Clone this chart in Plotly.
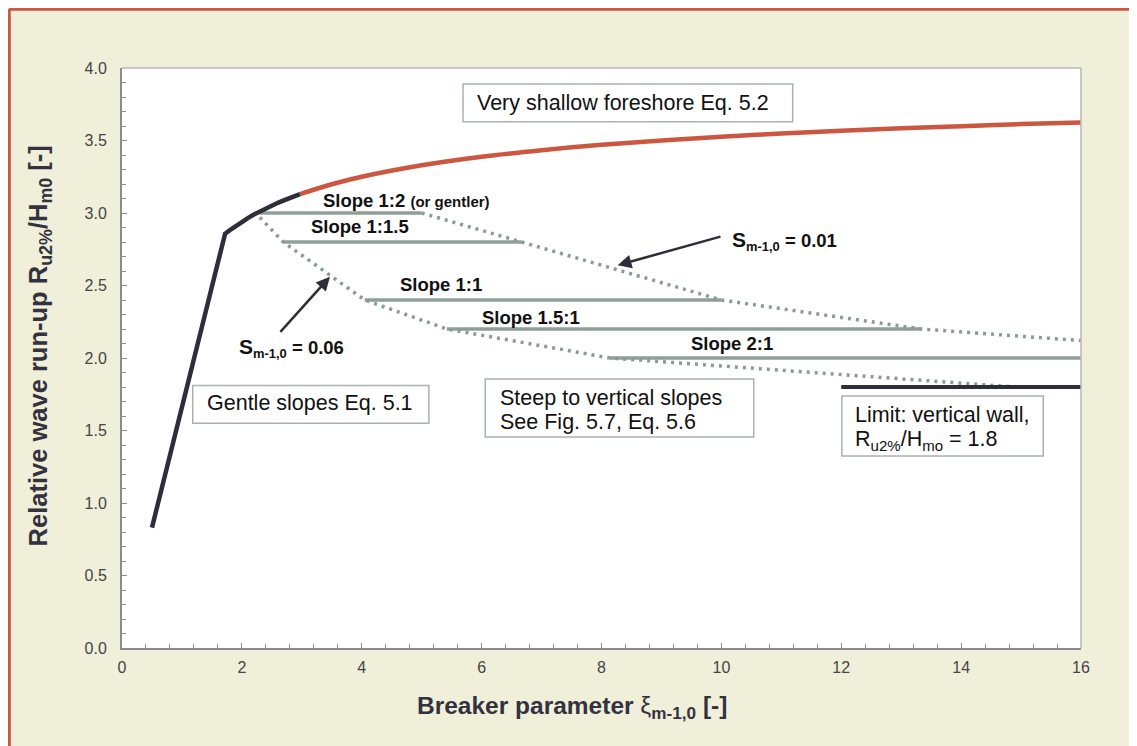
import plotly.graph_objects as go

# ---------------- data ----------------
# Eq. 5.1 gentle slopes (dark curve); first two points form the straight part
gentle_xi = [0.5, 1.72, 1.8, 1.9, 2.0, 2.1, 2.2, 2.3, 2.4, 2.5, 2.6, 2.7, 2.8, 2.97]
gentle_ru = [0.83, 2.857, 2.882, 2.912, 2.939, 2.965, 2.989, 3.011, 3.032, 3.051,
             3.070, 3.087, 3.104, 3.13]
# Eq. 5.2 very shallow foreshore (red curve)
shallow_xi = [2.97, 3.5, 4, 5, 6, 7, 8, 9, 10, 11, 12, 13, 14, 15, 16]
shallow_ru = [3.13, 3.198, 3.25, 3.329, 3.388, 3.433, 3.47, 3.50, 3.526, 3.548, 3.567,
              3.584, 3.599, 3.613, 3.625]

# Slope lines (horizontal)
slope_names = ["Slope 1:2", "Slope 1:1.5", "Slope 1:1", "Slope 1.5:1", "Slope 2:1"]
slope_ru = [3.0, 2.8, 2.4, 2.2, 2.0]
slope_xi_start = [2.30, 2.69, 4.05, 5.42, 8.14]
slope_xi_end = [5.0, 6.67, 10.0, 13.33, 16.0]

# Vertical wall limit
wall_xi = [12.0, 16.0]
wall_ru = [1.8, 1.8]

# Steepness lines (dotted)
s001_xi = [5.0, 6.67, 10.0, 13.33, 16.0]
s001_ru = [3.0, 2.8, 2.4, 2.2, 2.12]
s006_xi = [2.30, 2.69, 4.05, 5.42, 8.14, 14.9]
s006_ru = [2.97, 2.8, 2.4, 2.2, 2.0, 1.8]

x_ticks = [0, 2, 4, 6, 8, 10, 12, 14, 16]
y_ticks = [0.0, 0.5, 1.0, 1.5, 2.0, 2.5, 3.0, 3.5, 4.0]

# ---------------- styling ----------------
FONT = "Liberation Sans, Arial, Helvetica, sans-serif"
RED = "#CB5741"
DARK = "#2D2D3B"
GREEN = "#8E9F97"
CREAM = "#F0EFDA"
BOXLINE = "#A9B2AE"

fig = go.Figure()

# slope lines
for xs, xe, r in zip(slope_xi_start, slope_xi_end, slope_ru):
    fig.add_trace(go.Scatter(x=[xs, xe], y=[r, r], mode="lines",
                             line=dict(color=GREEN, width=3.5), showlegend=False,
                             hoverinfo="skip"))
# dotted steepness lines
for xs, ys in [(s001_xi, s001_ru), (s006_xi, s006_ru)]:
    fig.add_trace(go.Scatter(x=xs, y=ys, mode="lines",
                             line=dict(color="#8A9B93", width=3.5, dash="3px,5px"),
                             showlegend=False, hoverinfo="skip"))
# wall limit
fig.add_trace(go.Scatter(x=wall_xi, y=wall_ru, mode="lines",
                         line=dict(color=DARK, width=4), showlegend=False, hoverinfo="skip"))
# curves
fig.add_trace(go.Scatter(x=shallow_xi, y=shallow_ru, mode="lines",
                         line=dict(color=RED, width=4.5, shape="spline", smoothing=1.0),
                         showlegend=False, hoverinfo="skip"))
fig.add_trace(go.Scatter(x=gentle_xi, y=gentle_ru, mode="lines",
                         line=dict(color=DARK, width=4.5), showlegend=False, hoverinfo="skip"))

shapes = []
# text boxes (data coords)
boxes = [(5.69, 11.19, 3.63, 3.89), (1.18, 5.12, 1.55, 1.81),
         (6.06, 10.54, 1.455, 1.855), (12.01, 15.37, 1.324, 1.738)]
for x0, x1, y0, y1 in boxes:
    shapes.append(dict(type="rect", xref="x", yref="y", x0=x0, x1=x1, y0=y0, y1=y1,
                       line=dict(color=BOXLINE, width=1.5), fillcolor="white", layer="above"))
# top/right frame lines
shapes.append(dict(type="line", xref="paper", yref="paper", x0=0, x1=1, y0=1, y1=1,
                   line=dict(color="#B8B8B8", width=1.5)))
shapes.append(dict(type="line", xref="paper", yref="paper", x0=1, x1=1, y0=0, y1=1,
                   line=dict(color="#B8B8B8", width=1.5)))
# red page border (top and left)
shapes.append(dict(type="line", xref="paper", yref="paper", x0=-0.1178, x1=1.1,
                   y0=1.1017, y1=1.1017, line=dict(color=RED, width=3.5)))
shapes.append(dict(type="line", xref="paper", yref="paper", x0=-0.1178, x1=-0.1178,
                   y0=1.1017, y1=-0.2, line=dict(color=RED, width=3.5)))

ann = []
def txt(x, y, s, size, bold=False, xanchor="center"):
    ann.append(dict(x=x, y=y, xref="x", yref="y", text=(f"<b>{s}</b>" if bold else s),
                    showarrow=False, xanchor=xanchor, yanchor="middle",
                    font=dict(family=FONT, size=size, color="#111111")))

# box texts
txt(5.89, 3.762, "Very shallow foreshore Eq. 5.2", 21.5, xanchor="left")
txt(1.385, 1.69, "Gentle slopes Eq. 5.1", 21.5, xanchor="left")
txt(6.27, 1.724, "Steep to vertical slopes", 21.5, xanchor="left")
txt(6.27, 1.559, "See Fig. 5.7, Eq. 5.6", 21.5, xanchor="left")
txt(12.2, 1.607, "Limit: vertical wall,", 21.5, xanchor="left")
txt(12.2, 1.434, "R<sub>u2%</sub>/H<sub>mo</sub> = 1.8", 21.5, xanchor="left")

# slope labels
label_xi = [4.75, 3.97, 5.32, 6.82, 10.18]
label_ru = [3.083, 2.91, 2.51, 2.28, 2.10]
for i, (nm, lx, ly) in enumerate(zip(slope_names, label_xi, label_ru)):
    if i == 0:
        nm = nm + " <span style='font-size:15px'>(or gentler)</span>"
    txt(lx, ly, nm, 18.5, bold=True)

# steepness labels
txt(10.14, 2.81, "<span style='font-size:21px'>S</span><sub>m-1,0</sub> = 0.01", 18.5,
    bold=True, xanchor="left")
txt(1.92, 2.07, "<span style='font-size:21px'>S</span><sub>m-1,0</sub> = 0.06", 18.5,
    bold=True, xanchor="left")

# arrows
for (tx, ty, hx, hy) in [(10.01, 2.84, 8.27, 2.64), (2.62, 2.17, 3.47, 2.56)]:
    ann.append(dict(x=hx, y=hy, ax=tx, ay=ty, xref="x", yref="y", axref="x", ayref="y",
                    text="", showarrow=True, arrowhead=2, arrowsize=1.1, arrowwidth=2.5,
                    arrowcolor=DARK))

# axis titles
ann.append(dict(x=0.469, y=-0.103, xref="paper", yref="paper", showarrow=False,
                text="<b>Breaker parameter </b>ξ<b><sub>m-1,0</sub> [-]</b>",
                font=dict(family=FONT, size=24.5, color="#333340"),
                xanchor="center", yanchor="middle"))
ann.append(dict(x=-0.0855, y=0.52, xref="paper", yref="paper", showarrow=False,
                text="<b>Relative wave run-up R<sub>u2%</sub>/H<sub>m0</sub> [-]</b>",
                font=dict(family=FONT, size=25.5, color="#333340"), textangle=-90,
                xanchor="center", yanchor="middle"))

fig.update_layout(
    width=1129, height=738,
    margin=dict(l=114, r=56, t=60, b=98),
    paper_bgcolor=CREAM, plot_bgcolor="white",
    shapes=shapes, annotations=ann, showlegend=False,
    font=dict(family=FONT, size=16, color="#444444"),
)
fig.update_xaxes(range=[0, 16], tickvals=x_ticks, ticktext=[str(v) for v in x_ticks],
                 showgrid=False, zeroline=False, showline=True, linecolor="#8C8C8C",
                 linewidth=2, ticks="inside", ticklen=5, tickcolor="#8C8C8C", tickwidth=1,
                 ticklabelstandoff=4,
                 minor=dict(dtick=0.4, tick0=0, ticks="inside", ticklen=4,
                            tickcolor="#8C8C8C", showgrid=False),
                 tickfont=dict(family=FONT, size=16, color="#444444"))
fig.update_yaxes(range=[0, 4], tickvals=y_ticks, ticktext=[f"{v:.1f}" for v in y_ticks],
                 showgrid=False, zeroline=False, showline=True, linecolor="#8C8C8C",
                 linewidth=2, ticks="inside", ticklen=5, tickcolor="#8C8C8C", tickwidth=1,
                 ticklabelstandoff=10,
                 minor=dict(dtick=0.1, tick0=0, ticks="inside", ticklen=4,
                            tickcolor="#8C8C8C", showgrid=False),
                 tickfont=dict(family=FONT, size=16, color="#444444"))

fig.write_html("out.html")
